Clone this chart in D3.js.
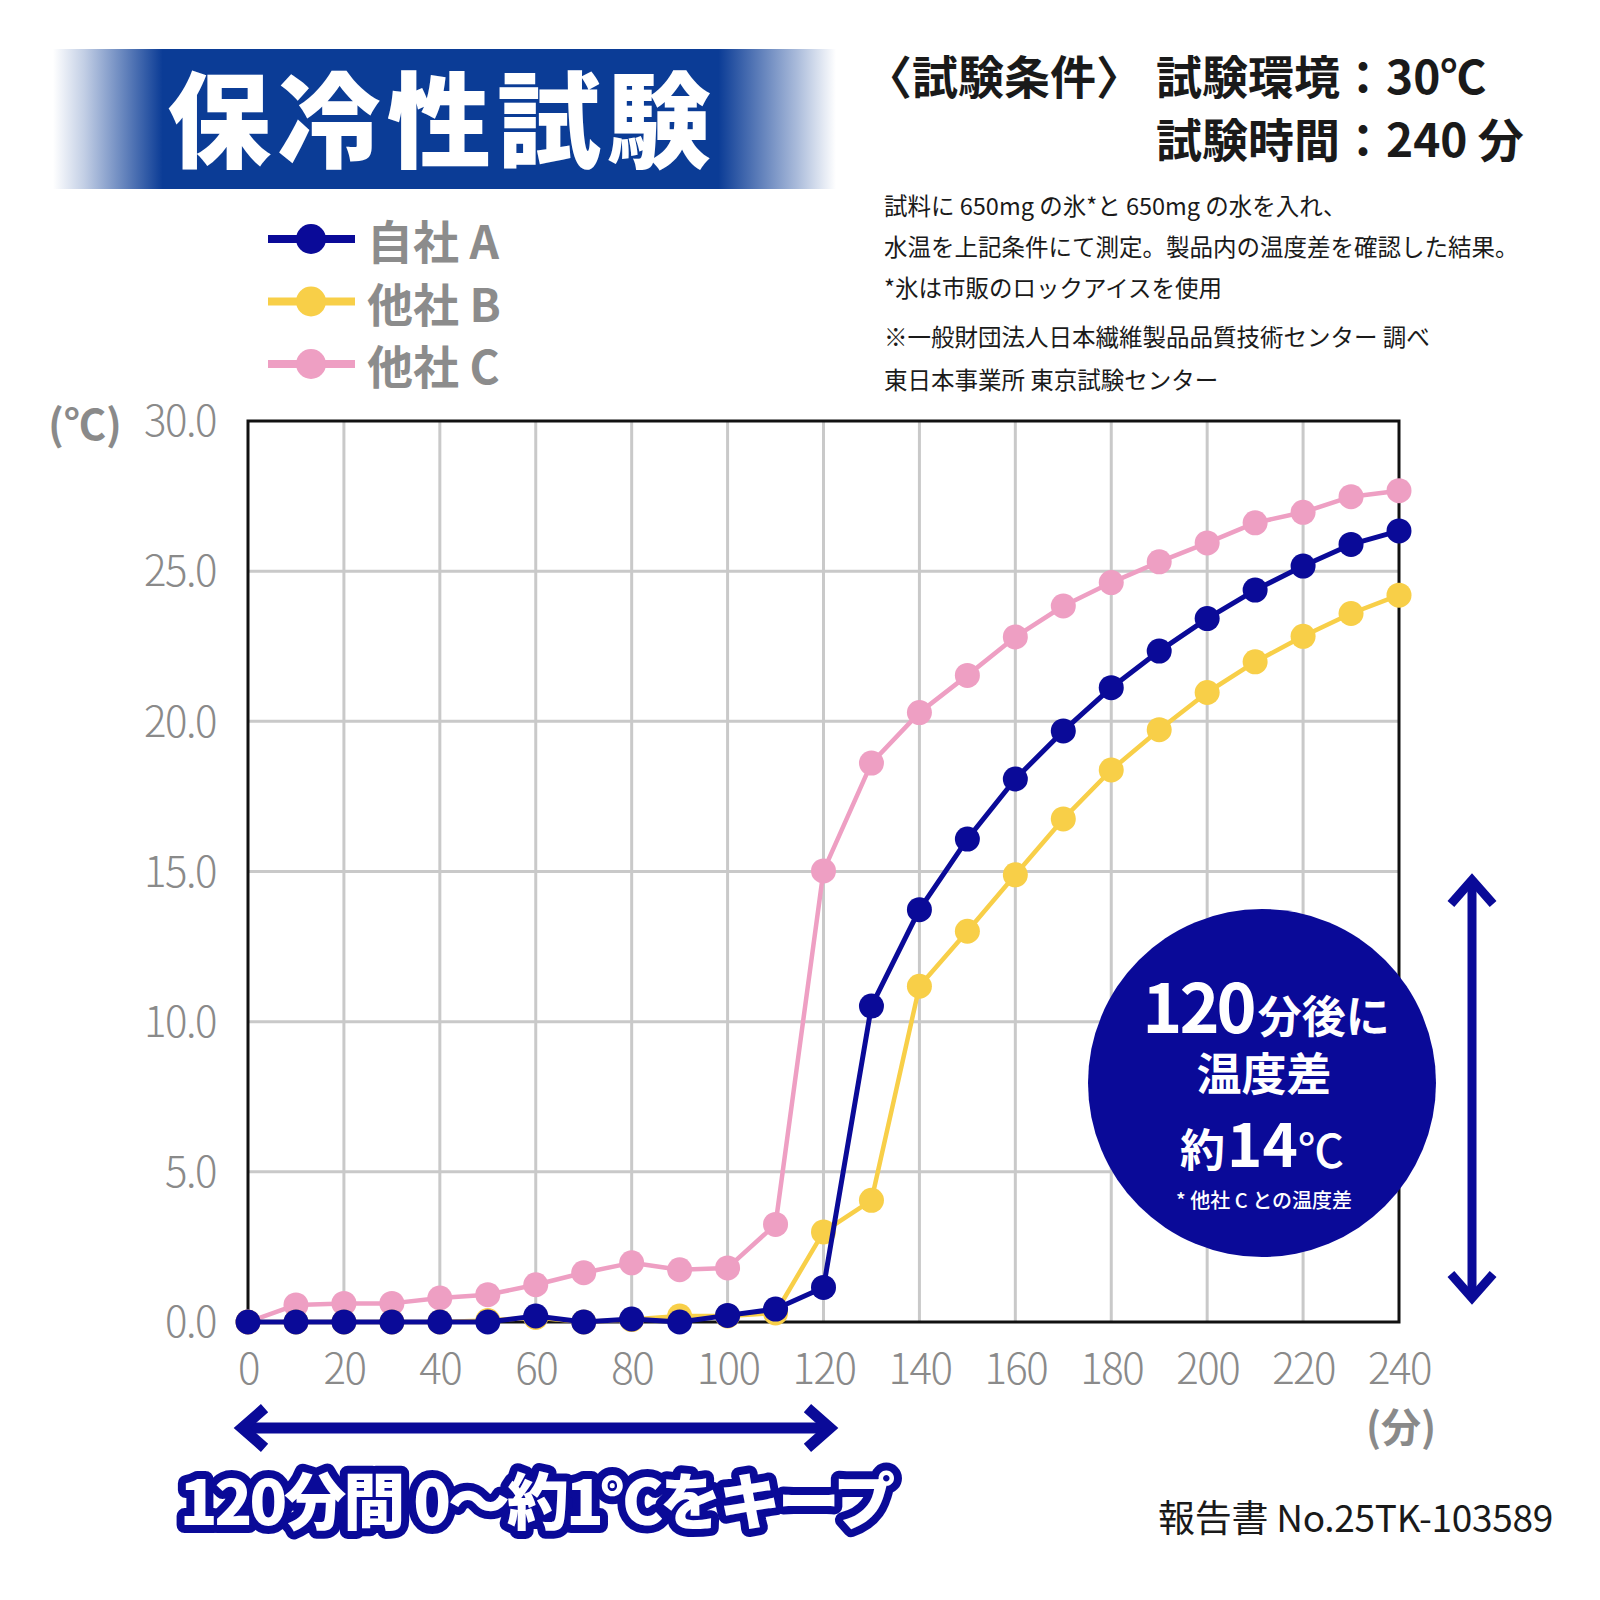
<!DOCTYPE html>
<html lang="ja">
<head>
<meta charset="utf-8">
<script src="https://cdn.jsdelivr.net/npm/d3@7"></script>
<style>
  html, body { margin: 0; padding: 0; background: #fff; }
  svg text { font-family: "Noto Sans CJK JP", "Noto Sans", sans-serif; }
</style>
</head>
<body>
<div id="chart"></div>
<script>
// 保冷性試験 — line chart of water temperature over 240 minutes
const minutes = [0, 10, 20, 30, 40, 50, 60, 70, 80, 90, 100, 110, 120,
                 130, 140, 150, 160, 170, 180, 190, 200, 210, 220, 230, 240];
const seriesNames = ["自社 A", "他社 B", "他社 C"];
const valuesA = [0, 0, 0, 0, 0, 0, 0.2, 0, 0.1, 0, 0.22, 0.43, 1.15,
                 10.52, 13.73, 16.08, 18.08, 19.68, 21.12, 22.34, 23.42, 24.37, 25.17, 25.89, 26.34];
const valuesB = [0, 0, 0, 0, 0, 0.05, 0.15, 0, 0.08, 0.2, 0.2, 0.3, 3.0,
                 4.05, 11.18, 13.01, 14.89, 16.75, 18.38, 19.72, 20.96, 21.98, 22.83, 23.59, 24.2];
const valuesC = [0, 0.57, 0.62, 0.62, 0.8, 0.91, 1.24, 1.64, 1.97, 1.74, 1.8, 3.25, 15.02,
                 18.61, 20.29, 21.53, 22.81, 23.84, 24.62, 25.31, 25.94, 26.61, 26.96, 27.48, 27.68];
const xTicks = [0, 20, 40, 60, 80, 100, 120, 140, 160, 180, 200, 220, 240];
const yTicks = [0, 5, 10, 15, 20, 25, 30];

const NAVY = "#0a0a98";
const colors = { "自社 A": NAVY, "他社 B": "#f8cf48", "他社 C": "#ee9fc3" };

const W = 1600, H = 1600;
const svg = d3.select("#chart").append("svg")
    .attr("width", W).attr("height", H)
    .attr("viewBox", `0 0 ${W} ${H}`);

const defs = svg.append("defs");

// ── Title banner ─────────────────────────────────────────────────────────
const grad = defs.append("linearGradient").attr("id", "title-grad");
[[0, 0.0], [0.04, 0.25], [0.14, 1], [0.85, 1], [0.95, 0.35], [1, 0.0]].forEach(([o, a]) =>
    grad.append("stop").attr("offset", o).attr("stop-color", "#0b3c96").attr("stop-opacity", a));
svg.append("rect").attr("x", 53).attr("y", 49).attr("width", 783).attr("height", 140)
    .attr("fill", "url(#title-grad)");
svg.append("text").attr("x", 442).attr("y", 114)
    .attr("text-anchor", "middle").attr("dominant-baseline", "central")
    .attr("font-size", 104).attr("font-weight", 900).attr("fill", "#fff")
    .attr("letter-spacing", 6)
    .text("保冷性試験");

// ── Test conditions ──────────────────────────────────────────────────────
const cond = svg.append("g").attr("fill", "#1a1a1a").attr("font-weight", 700).attr("font-size", 46);
cond.append("text").attr("x", 866).attr("y", 74).attr("dominant-baseline", "central").text("〈試験条件〉");
cond.append("text").attr("x", 1156).attr("y", 74).attr("dominant-baseline", "central").text("試験環境：30℃");
cond.append("text").attr("x", 1156).attr("y", 137).attr("dominant-baseline", "central").text("試験時間：240 分");

const notes = [
    ["試料に 650mg の氷*と 650mg の水を入れ、", 205],
    ["水温を上記条件にて測定。製品内の温度差を確認した結果。", 246],
    ["*氷は市販のロックアイスを使用", 287],
    ["※一般財団法人日本繊維製品品質技術センター 調べ", 336],
    ["東日本事業所 東京試験センター", 379]
];
svg.append("g").selectAll("text").data(notes).join("text")
    .attr("x", 884).attr("y", d => d[1])
    .attr("dominant-baseline", "central")
    .attr("font-size", 23.5).attr("font-weight", 400).attr("fill", "#1a1a1a")
    .text(d => d[0]);

// ── Scales ───────────────────────────────────────────────────────────────
const plot = { left: 248, right: 1399, top: 421, bottom: 1322 };
const x = d3.scaleLinear().domain([0, 240]).range([plot.left, plot.right]);
const y = d3.scaleLinear().domain([0, 30]).range([plot.bottom, plot.top]);

// grid
const grid = svg.append("g").attr("stroke", "#c9c9c9").attr("stroke-width", 3);
grid.selectAll("line.v").data(xTicks.slice(1, -1)).join("line")
    .attr("x1", d => x(d)).attr("x2", d => x(d))
    .attr("y1", plot.top).attr("y2", plot.bottom);
grid.selectAll("line.h").data(yTicks.slice(1, -1)).join("line")
    .attr("x1", plot.left).attr("x2", plot.right)
    .attr("y1", d => y(d)).attr("y2", d => y(d));

// frame
svg.append("rect")
    .attr("x", plot.left).attr("y", plot.top)
    .attr("width", plot.right - plot.left).attr("height", plot.bottom - plot.top)
    .attr("fill", "none").attr("stroke", "#111").attr("stroke-width", 3);

// axes (labels only)
const yAxis = svg.append("g").attr("transform", `translate(${plot.left - 32},0)`)
    .call(d3.axisLeft(y).tickValues(yTicks).tickFormat(d3.format(".1f")).tickSize(0).tickPadding(0));
const xAxis = svg.append("g").attr("transform", `translate(0,${plot.bottom + 32})`)
    .call(d3.axisBottom(x).tickValues(xTicks).tickSize(0).tickPadding(0));
[yAxis, xAxis].forEach(ax => {
    ax.select(".domain").remove();
    ax.selectAll("text")
        .attr("font-family", "'Noto Sans CJK JP', sans-serif")
        .attr("font-size", 42).attr("font-weight", 300).attr("fill", "#8a8a8a")
        .attr("letter-spacing", -1.5);
});
yAxis.selectAll("text").attr("dy", "0.35em");
xAxis.selectAll("text").attr("dy", "0.71em");

svg.append("text").attr("x", 85).attr("y", 421).attr("text-anchor", "middle")
    .attr("dominant-baseline", "central")
    .attr("font-size", 42).attr("font-weight", 700).attr("fill", "#8a8a8a").text("(℃)");
svg.append("text").attr("x", 1401).attr("y", 1425).attr("text-anchor", "middle")
    .attr("dominant-baseline", "central")
    .attr("font-size", 40).attr("font-weight", 700).attr("fill", "#8a8a8a").text("(分)");

// ── Lines ────────────────────────────────────────────────────────────────
const series = [
    { name: "他社 C", values: valuesC },
    { name: "他社 B", values: valuesB },
    { name: "自社 A", values: valuesA }
];
const line = d3.line().x((d, i) => x(minutes[i])).y(d => y(d));
series.forEach(s => {
    const g = svg.append("g");
    g.append("path").datum(s.values)
        .attr("d", line).attr("fill", "none")
        .attr("stroke", colors[s.name]).attr("stroke-width", s.name === "自社 A" ? 5 : 4.5)
        .attr("stroke-linejoin", "round");
    g.selectAll("circle").data(s.values).join("circle")
        .attr("cx", (d, i) => x(minutes[i])).attr("cy", d => y(d))
        .attr("r", 12.5).attr("fill", colors[s.name]);
});

// ── Legend ───────────────────────────────────────────────────────────────
const legend = svg.append("g");
seriesNames.forEach((name, i) => {
    const cy = 239 + i * 62.5;
    legend.append("line").attr("x1", 268).attr("x2", 355).attr("y1", cy).attr("y2", cy)
        .attr("stroke", colors[name]).attr("stroke-width", 8);
    legend.append("circle").attr("cx", 311).attr("cy", cy).attr("r", 15).attr("fill", colors[name]);
    legend.append("text").attr("x", 367).attr("y", cy).attr("dominant-baseline", "central")
        .attr("font-size", 46).attr("font-weight", 700).attr("fill", "#8c8c8c").text(name);
});

// ── Annotations ──────────────────────────────────────────────────────────
function dblArrow(g, x1, y1, x2, y2, w, head) {
    const ang = Math.atan2(y2 - y1, x2 - x1);
    g.append("line").attr("x1", x1).attr("y1", y1).attr("x2", x2).attr("y2", y2)
        .attr("stroke", NAVY).attr("stroke-width", w);
    [[x1, y1, ang + Math.PI], [x2, y2, ang]].forEach(([px, py, a]) => {
        const p = d3.path();
        p.moveTo(px - head * Math.cos(a - 0.72), py - head * Math.sin(a - 0.72));
        p.lineTo(px, py);
        p.lineTo(px - head * Math.cos(a + 0.72), py - head * Math.sin(a + 0.72));
        g.append("path").attr("d", p.toString()).attr("fill", "none")
            .attr("stroke", NAVY).attr("stroke-width", w).attr("stroke-linejoin", "miter")
            .attr("stroke-linecap", "butt");
    });
}
const ann = svg.append("g");
dblArrow(ann, 1472, 880, 1472, 1298, 9, 32);
dblArrow(ann, 242, 1428, 830, 1428, 11, 30);

// circle badge
ann.append("circle").attr("cx", 1262).attr("cy", 1083).attr("r", 174).attr("fill", NAVY);
const badge = ann.append("g").attr("fill", "#fff").attr("font-weight", 700).attr("text-anchor", "middle");
const l1 = badge.append("text").attr("x", 1266).attr("y", 1033);
l1.append("tspan").attr("font-size", 68).attr("letter-spacing", -3).text("120");
l1.append("tspan").attr("font-size", 44).attr("dx", 4).text("分後に");
badge.append("text").attr("x", 1264).attr("y", 1091).attr("font-size", 45).text("温度差");
const l3 = badge.append("text").attr("x", 1262).attr("y", 1167);
l3.append("tspan").attr("font-size", 45).text("約");
l3.append("tspan").attr("font-size", 60).attr("dx", 2).text("14");
l3.append("tspan").attr("font-size", 46).attr("font-weight", 500).text("℃");
badge.append("text").attr("x", 1264).attr("y", 1208).attr("font-size", 20).attr("font-weight", 500)
    .text("* 他社 C との温度差");

// bottom caption
svg.append("text").attr("x", 536).attr("y", 1498)
    .attr("text-anchor", "middle").attr("dominant-baseline", "central")
    .attr("font-size", 62).attr("font-weight", 900).attr("letter-spacing", -3)
    .attr("fill", "#fff").attr("stroke", NAVY).attr("stroke-width", 16)
    .attr("stroke-linejoin", "round").attr("paint-order", "stroke")
    .text("120分間 0〜約1℃をキープ");

svg.append("text").attr("x", 1553).attr("y", 1516).attr("text-anchor", "end")
    .attr("dominant-baseline", "central")
    .attr("font-size", 37).attr("font-weight", 400).attr("fill", "#1a1a1a")
    .attr("letter-spacing", -0.3)
    .text("報告書 No.25TK-103589");
</script>
</body>
</html>
